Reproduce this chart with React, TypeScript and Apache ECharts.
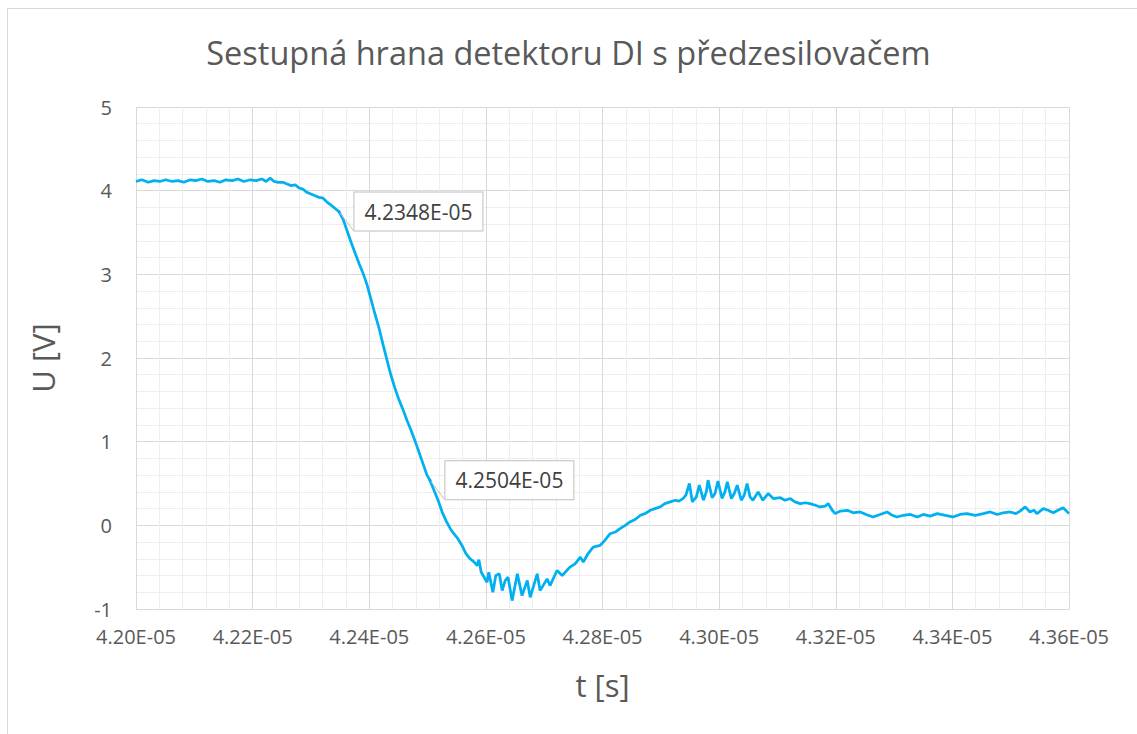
import React, { useEffect, useRef } from "react";
import * as echarts from "echarts";

// time in units of 1E-05 s
const timeE5 = [
  4.2000, 4.2010, 4.2021, 4.2031, 4.2041, 4.2051, 4.2062, 4.2072, 4.2082, 4.2093,
  4.2103, 4.2113, 4.2123, 4.2134, 4.2144, 4.2154, 4.2165, 4.2175, 4.2185, 4.2196,
  4.2206, 4.2216, 4.2223, 4.2230, 4.2237, 4.2244, 4.2252, 4.2259, 4.2266, 4.2273,
  4.2280, 4.2286, 4.2293, 4.2300, 4.2307, 4.2314, 4.2321, 4.2328, 4.2334, 4.2341,
  4.2348, 4.2355, 4.2362, 4.2369, 4.2376, 4.2383, 4.2389, 4.2396, 4.2403, 4.2410,
  4.2417, 4.2424, 4.2431, 4.2437, 4.2444, 4.2451, 4.2458, 4.2465, 4.2472, 4.2479,
  4.2485, 4.2492, 4.2499, 4.2504, 4.2511, 4.2518, 4.2525, 4.2532, 4.2539, 4.2545,
  4.2552, 4.2559, 4.2566, 4.2573, 4.2580, 4.2585, 4.2588, 4.2592, 4.2597, 4.2602,
  4.2605, 4.2612, 4.2617, 4.2623, 4.2628, 4.2633, 4.2638, 4.2645, 4.2654, 4.2662,
  4.2671, 4.2676, 4.2688, 4.2693, 4.2705, 4.2710, 4.2722, 4.2731, 4.2744, 4.2753,
  4.2762, 4.2767, 4.2775, 4.2784, 4.2796, 4.2804, 4.2813, 4.2822, 4.2830, 4.2839,
  4.2847, 4.2856, 4.2865, 4.2873, 4.2882, 4.2890, 4.2899, 4.2907, 4.2916, 4.2925,
  4.2931, 4.2938, 4.2943, 4.2949, 4.2954, 4.2961, 4.2966, 4.2973, 4.2978, 4.2981,
  4.2988, 4.2993, 4.2998, 4.3005, 4.3010, 4.3014, 4.3021, 4.3026, 4.3031, 4.3038,
  4.3043, 4.3048, 4.3053, 4.3058, 4.3067, 4.3075, 4.3084, 4.3093, 4.3105, 4.3113,
  4.3122, 4.3130, 4.3139, 4.3148, 4.3156, 4.3165, 4.3173, 4.3182, 4.3187, 4.3194,
  4.3199, 4.3208, 4.3220, 4.3230, 4.3242, 4.3252, 4.3264, 4.3276, 4.3288, 4.3297,
  4.3305, 4.3316, 4.3328, 4.3340, 4.3350, 4.3362, 4.3374, 4.3388, 4.3401, 4.3413,
  4.3425, 4.3439, 4.3453, 4.3465, 4.3477, 4.3487, 4.3499, 4.3509, 4.3516, 4.3525,
  4.3533, 4.3540, 4.3545, 4.3556, 4.3564, 4.3573, 4.3581, 4.3590, 4.3600,
];

// voltage in V
const voltage = [
  4.11, 4.13, 4.10, 4.12, 4.11, 4.13, 4.11, 4.12, 4.10, 4.13,
  4.12, 4.14, 4.11, 4.12, 4.10, 4.13, 4.12, 4.14, 4.11, 4.13,
  4.12, 4.14, 4.11, 4.15, 4.11, 4.10, 4.10, 4.08, 4.06, 4.07,
  4.03, 4.02, 3.98, 3.96, 3.94, 3.92, 3.91, 3.86, 3.83, 3.79,
  3.75, 3.66, 3.52, 3.38, 3.25, 3.12, 3.02, 2.88, 2.70, 2.52,
  2.35, 2.15, 1.96, 1.80, 1.64, 1.50, 1.38, 1.25, 1.13, 1.00,
  0.88, 0.74, 0.60, 0.54, 0.42, 0.30, 0.16, 0.05, -0.04, -0.10,
  -0.16, -0.24, -0.34, -0.40, -0.44, -0.48, -0.41, -0.56, -0.62, -0.68,
  -0.56, -0.80, -0.60, -0.58, -0.78, -0.66, -0.62, -0.90, -0.58, -0.84,
  -0.66, -0.86, -0.58, -0.78, -0.64, -0.72, -0.54, -0.60, -0.50, -0.46,
  -0.38, -0.44, -0.34, -0.26, -0.24, -0.18, -0.10, -0.08, -0.04, 0.00,
  0.04, 0.07, 0.12, 0.14, 0.18, 0.20, 0.22, 0.26, 0.28, 0.30,
  0.29, 0.32, 0.36, 0.50, 0.28, 0.34, 0.48, 0.30, 0.40, 0.54,
  0.33, 0.38, 0.53, 0.32, 0.40, 0.52, 0.32, 0.38, 0.48, 0.30,
  0.36, 0.50, 0.34, 0.30, 0.40, 0.30, 0.38, 0.32, 0.33, 0.30,
  0.32, 0.28, 0.26, 0.27, 0.26, 0.24, 0.22, 0.23, 0.26, 0.18,
  0.14, 0.17, 0.18, 0.15, 0.16, 0.13, 0.10, 0.13, 0.16, 0.12,
  0.10, 0.12, 0.13, 0.10, 0.13, 0.11, 0.14, 0.12, 0.10, 0.13,
  0.14, 0.12, 0.14, 0.16, 0.13, 0.15, 0.16, 0.14, 0.17, 0.22,
  0.16, 0.18, 0.14, 0.20, 0.18, 0.15, 0.18, 0.21, 0.14,
];

// points with data labels (time, 1E-05 s)
const labeledTimes = [4.2348, 4.2504];

const xMin = 4.2;
const xMax = 4.36;
const xStep = 0.02;
const yMin = -1;
const yMax = 5;
const yStep = 1;

const titleText = "Sestupná hrana detektoru DI s předzesilovačem";
const xName = "t [s]";
const yName = "U [V]";

const FONT = "'Open Sans', 'Noto Sans', sans-serif";
const TEXT = "#595959";

export default function App() {
  const ref = useRef<HTMLDivElement>(null);

  useEffect(() => {
    if (!ref.current) return;
    const chart = echarts.init(ref.current, undefined, { renderer: "svg" });

    const data = timeE5.map((t, i) => {
      if (labeledTimes.includes(t)) {
        return {
          value: [t, voltage[i]],
          symbol: "circle",
          symbolSize: 3,
          label: {
            show: true,
            position: "right",
            distance: 14,
            formatter: (p: any) => p.value[0].toFixed(4) + "E-05",
            backgroundColor: "#ffffff",
            borderColor: "#bfbfbf",
            borderWidth: 1,
            padding: [8, 10, 8, 10],
            color: "#404040",
            fontSize: 21,
            lineHeight: 22,
            fontFamily: FONT,
          },
          labelLine: { show: true, lineStyle: { color: "#bfbfbf", width: 1 } },
        };
      }
      return { value: [t, voltage[i]], symbol: "none" };
    });

    chart.setOption({
      animation: false,
      backgroundColor: "#ffffff",
      title: {
        text: titleText,
        left: "center",
        top: 31,
        textStyle: { color: TEXT, fontSize: 32.5, fontWeight: "normal", fontFamily: FONT },
      },
      grid: { left: 136, right: 68, top: 107, bottom: 125, containLabel: false },
      xAxis: {
        type: "value",
        min: xMin,
        max: xMax,
        interval: xStep,
        name: xName,
        nameLocation: "middle",
        nameGap: 60,
        nameTextStyle: { color: TEXT, fontSize: 31, fontFamily: FONT },
        axisLine: { show: true, onZero: false, lineStyle: { color: "#d9d9d9" } },
        axisTick: { show: false },
        axisLabel: {
          color: TEXT,
          fontSize: 20,
          fontFamily: FONT,
          margin: 17,
          formatter: (v: number) => v.toFixed(2) + "E-05",
        },
        splitLine: { show: true, lineStyle: { color: "#d9d9d9", width: 1 } },
        minorTick: { show: false, splitNumber: 5 },
        minorSplitLine: { show: true, lineStyle: { color: "#eeeeee", width: 1 } },
      },
      yAxis: {
        type: "value",
        min: yMin,
        max: yMax,
        interval: yStep,
        name: yName,
        nameLocation: "middle",
        nameGap: 78,
        nameRotate: 90,
        nameTextStyle: { color: TEXT, fontSize: 31, fontFamily: FONT },
        axisLine: { show: false, onZero: false },
        axisTick: { show: false },
        axisLabel: { color: TEXT, fontSize: 20, fontFamily: FONT, margin: 24 },
        splitLine: { show: true, lineStyle: { color: "#d9d9d9", width: 1 } },
        minorTick: { show: false, splitNumber: 5 },
        minorSplitLine: { show: true, lineStyle: { color: "#eeeeee", width: 1 } },
      },
      series: [
        {
          type: "line",
          data,
          showSymbol: true,
          symbol: "none",
          silent: true,
          lineStyle: { color: "#00b0f0", width: 2.75 },
          itemStyle: { color: "#00b0f0" },
          label: { show: false },
          z: 3,
        },
      ],
    });

    return () => chart.dispose();
  }, []);

  return (
    <div style={{ position: "fixed", left: 0, top: 0, width: 1137, height: 734, overflow: "hidden", background: "#ffffff" }}>
      <div
        ref={ref}
        style={{ position: "absolute", left: 0, top: 0, width: 1137, height: 734 }}
      />
      <div
        style={{
          position: "absolute",
          left: 7,
          top: 8,
          width: 1300,
          height: 900,
          border: "1px solid #d9d9d9",
          pointerEvents: "none",
        }}
      />
    </div>
  );
}
